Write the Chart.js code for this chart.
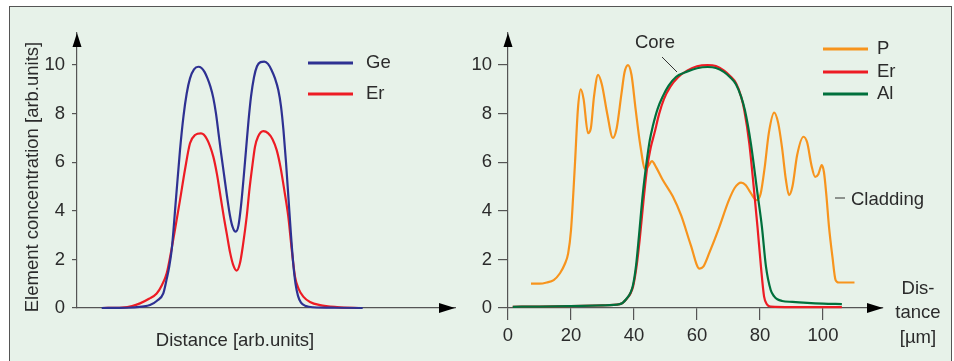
<!DOCTYPE html>
<html>
<head>
<meta charset="utf-8">
<script src="https://cdn.jsdelivr.net/npm/chart.js@4/dist/chart.umd.min.js"></script>
<style>
  body { margin: 0; background: #fff; }
  #page { position: relative; width: 954px; height: 361px; overflow: hidden; background: #fff; }
  #frame { position: absolute; left: 9px; top: 6px; width: 941px; height: 370px;
           border: 1.5px solid #555; background: #e7f2e9; }
  canvas { position: absolute; top: 0; }
  #left-chart { left: 0; }
  #right-chart { left: 430px; }
</style>
</head>
<body>
<div id="page">
  <div id="frame"></div>
  <canvas id="left-chart" width="477" height="361"></canvas>
  <canvas id="right-chart" width="524" height="361"></canvas>
</div>
<script>
// ---- left panel: arbitrary distance units ----
const geX = [24.7, 50, 65, 73, 80, 86.3, 90, 92, 94.7, 99, 103, 106.5, 109.7, 113, 117, 121.3, 124.5, 127.5, 130.5, 133.5,
             136.3, 139, 141.5, 144, 147, 150, 153, 155.5, 158.7, 161.5, 164, 166.5, 169, 171.5, 174, 177, 180, 183.5,
             187.3, 191, 194.5, 198, 201.3, 204, 206.5, 209, 211.5, 214, 216.3, 218.5, 221, 224, 229, 236, 260, 285.7];
const geY = [0, 0.01, 0.06, 0.12, 0.3, 0.6, 1.25, 1.65, 2.4, 4.5, 6.5, 7.9, 8.83, 9.45, 9.82, 9.93, 9.88, 9.72, 9.45, 9.1,
             8.65, 8.0, 7.2, 6.4, 5.5, 4.6, 3.8, 3.35, 3.14, 3.4, 4.2, 5.3, 6.5, 7.7, 8.7, 9.5, 9.95, 10.12,
             10.14, 10.05, 9.8, 9.45, 8.97, 8.3, 7.3, 6.0, 4.5, 3.0, 1.8, 1.0, 0.5, 0.22, 0.08, 0.03, 0.01, 0];
const erLeftX = [25, 45, 55, 63, 72, 79.7, 85, 89.7, 94, 98.5, 103, 108, 113, 118, 124, 130, 136.3, 140, 143.5, 147, 150,
                 153, 156, 159.7, 163, 166, 169.7, 172.5, 175.5, 178, 181, 186.3, 191, 195.5, 199.7, 203.5, 207.5, 211.3,
                 214.5, 218, 221.5, 226.3, 233, 243, 260, 285];
const erLeftY = [0, 0.02, 0.08, 0.19, 0.38, 0.6, 0.95, 1.43, 2.3, 3.35, 4.44, 5.7, 6.78, 7.12, 7.19, 6.95, 6.23, 5.5, 4.6, 3.7, 3.0,
                 2.3, 1.8, 1.54, 1.85, 2.6, 3.76, 4.9, 5.9, 6.64, 7.05, 7.28, 7.2, 6.95, 6.5, 5.8, 4.8, 3.76,
                 2.5, 1.29, 0.8, 0.47, 0.25, 0.12, 0.04, 0];

// ---- right panel: distance in µm ----
const pX = [7.3, 10, 12.3, 14.5, 16.5, 18, 19.1, 20, 21.2, 22.2, 23.1, 24, 25.4, 26.3, 27.3, 28.6, 29.8, 31.5, 33.3,
            34.5, 36, 37, 38.1, 39.2, 40.5, 42, 43.6, 44.6, 45.7, 47, 49, 52.3, 55, 58, 60.8, 62, 64, 67, 70, 72, 74,
            75.5, 77, 78.9, 80.2, 81.5, 82.8, 84.5, 85.8, 87, 88.2, 89.2, 90.3, 91.8, 93.8, 95, 96.3, 97.5, 98.5, 99.6,
            100.3, 101.1, 101.9, 103, 104, 105, 110];
const pY = [1.0, 1.0, 1.05, 1.15, 1.43, 1.8, 2.25, 3.2, 5.8, 8.2, 9.0, 8.6, 7.2, 7.4, 8.7, 9.6, 9.2, 8.0, 7.0,
            7.4, 8.8, 9.7, 10.0, 9.6, 8.2, 6.7, 5.7, 5.85, 6.05, 5.8, 5.3, 4.6, 3.8, 2.6, 1.62, 1.7, 2.3, 3.3, 4.4, 4.95, 5.16,
            5.05, 4.75, 4.44, 4.7, 5.8, 7.2, 8.04, 7.6, 6.6, 5.3, 4.65, 5.0, 6.3, 7.05, 6.8, 5.9, 5.4, 5.5, 5.88,
            5.6, 4.6, 3.35, 2.1, 1.15, 1.05, 1.05];
const erRightX = [1.5, 10, 20, 30, 35.5, 37.5, 39.7, 40.8, 41.8, 43, 44.2, 45.3, 46.5, 48, 49.5, 51.5, 54, 57, 60, 63.4,
                  66, 68.5, 70.5, 72.4, 74, 75, 76.6, 78.2, 79.2, 80.3, 81.3, 82.2, 83.5, 90, 106];
const erRightY = [0.05, 0.06, 0.08, 0.11, 0.16, 0.35, 0.88, 1.7, 2.8, 4.4, 5.8, 6.6, 7.2, 8.0, 8.6, 9.1, 9.5, 9.78, 9.95, 10.0,
                  9.96, 9.78, 9.55, 9.25, 8.7, 8.15, 6.78, 4.72, 3.35, 1.7, 0.47, 0.15, 0.06, 0.04, 0.04];
const alX = [1.5, 10, 20, 30, 35.5, 37.5, 39.6, 40.7, 41.6, 42.8, 44, 45, 46, 47.5, 49.1, 51, 53.4, 57, 60, 63.4,
             66, 68.5, 70.5, 72.4, 74, 75.2, 77.1, 79.2, 80.6, 81.9, 83.4, 84.5, 85.5, 87, 90.3, 95, 100, 106];
const alY = [0.05, 0.06, 0.08, 0.11, 0.16, 0.36, 0.9, 1.8, 3.0, 4.7, 6.0, 6.9, 7.5, 8.2, 8.7, 9.15, 9.52, 9.74, 9.87, 9.92,
             9.88, 9.72, 9.5, 9.2, 8.7, 8.15, 6.78, 4.72, 3.35, 1.7, 0.74, 0.48, 0.36, 0.29, 0.25, 0.21, 0.18, 0.16];

const yTicks = [0, 2, 4, 6, 8, 10];
const xTicksRight = [0, 20, 40, 60, 80, 100];

const FONT = { family: 'Arial, "Liberation Sans", sans-serif', size: 18.5 };
const INK = '#2b2b2b';
const AXIS = '#555';

const toPoints = (xs, ys) => xs.map((x, i) => ({ x: x, y: ys[i] }));

// arrows, legend and free text drawn on top of each panel
const panelDecor = {
  id: 'panelDecor',
  afterDraw(chart, args, opts) {
    const { ctx, chartArea: a } = chart;
    ctx.save();
    ctx.fillStyle = '#000';
    ctx.beginPath();
    ctx.moveTo(a.left, a.top);
    ctx.lineTo(a.left - 4.5, a.top + 14);
    ctx.lineTo(a.left + 4.5, a.top + 14);
    ctx.closePath();
    ctx.fill();
    ctx.beginPath();
    ctx.moveTo(a.right, a.bottom);
    ctx.lineTo(a.right - 16, a.bottom - 5);
    ctx.lineTo(a.right - 16, a.bottom + 5);
    ctx.closePath();
    ctx.fill();

    ctx.font = FONT.size + 'px ' + FONT.family;
    ctx.fillStyle = INK;
    ctx.textBaseline = 'middle';

    const lg = opts.legend;
    chart.data.datasets.forEach((ds, i) => {
      const y = lg.rows[i];
      ctx.strokeStyle = ds.borderColor;
      ctx.lineWidth = 3;
      ctx.beginPath();
      ctx.moveTo(lg.x0, y);
      ctx.lineTo(lg.x1, y);
      ctx.stroke();
      ctx.textAlign = 'left';
      ctx.fillText(ds.label, lg.tx, y);
    });

    (opts.texts || []).forEach(t => {
      ctx.save();
      ctx.translate(t.x, t.y);
      if (t.rot) ctx.rotate(t.rot);
      ctx.textAlign = t.align || 'center';
      ctx.fillText(t.text, 0, 0);
      ctx.restore();
    });

    ctx.strokeStyle = '#333';
    ctx.lineWidth = 1;
    (opts.lines || []).forEach(l => {
      ctx.beginPath();
      ctx.moveTo(l[0], l[1]);
      ctx.lineTo(l[2], l[3]);
      ctx.stroke();
    });
    ctx.restore();
  }
};

function yScale(width, tickLen, pad) {
  return {
    type: 'linear', min: 0, max: 11.32,
    afterBuildTicks: s => { s.ticks = yTicks.map(v => ({ value: v })); },
    afterFit: s => { s.width = width; },
    ticks: { font: FONT, color: INK, padding: pad },
    grid: { drawOnChartArea: false, drawTicks: true, tickLength: tickLen, color: AXIS, lineWidth: 1.2 },
    border: { color: AXIS, width: 1.2 }
  };
}

function lineSet(label, pts, color, order) {
  return {
    label: label, data: pts, borderColor: color, backgroundColor: color,
    borderWidth: 2.2, pointRadius: 0, cubicInterpolationMode: 'monotone',
    clip: false, order: order
  };
}

new Chart(document.getElementById('left-chart'), {
  type: 'line',
  data: {
    datasets: [
      lineSet('Ge', toPoints(geX, geY), '#2e3192', 1),
      lineSet('Er', toPoints(erLeftX, erLeftY), '#ed1c24', 2)
    ]
  },
  options: {
    responsive: false, animation: false,
    layout: { padding: { top: 33, right: 22, left: 0, bottom: 0 } },
    plugins: {
      legend: { display: false }, tooltip: { enabled: false },
      panelDecor: {
        legend: { x0: 308, x1: 353, tx: 366, rows: [63, 94] },
        texts: [
          { text: 'Element concentration [arb.units]', x: 33, y: 177, rot: -Math.PI / 2 },
          { text: 'Distance [arb.units]', x: 235, y: 341 }
        ]
      }
    },
    scales: {
      x: {
        type: 'linear', min: 0, max: 378,
        afterFit: s => { s.height = 53; },
        ticks: { display: false },
        grid: { display: false },
        border: { color: AXIS, width: 1.2 }
      },
      y: yScale(77, 5, 7)
    }
  },
  plugins: [panelDecor]
});

new Chart(document.getElementById('right-chart'), {
  type: 'line',
  data: {
    datasets: [
      lineSet('P', toPoints(pX, pY), '#f7941d', 3),
      lineSet('Er', toPoints(erRightX, erRightY), '#ed1c24', 2),
      lineSet('Al', toPoints(alX, alY), '#00703c', 1)
    ]
  },
  options: {
    responsive: false, animation: false,
    layout: { padding: { top: 33, right: 71, left: 0, bottom: 0 } },
    plugins: {
      legend: { display: false }, tooltip: { enabled: false },
      panelDecor: {
        legend: { x0: 393, x1: 438, tx: 447, rows: [49, 72, 94] },
        texts: [
          { text: 'Core', x: 225, y: 43 },
          { text: 'Cladding', x: 421, y: 200, align: 'left' },
          { text: 'Dis-', x: 488, y: 289 },
          { text: 'tance', x: 488, y: 313 },
          { text: '[\u00b5m]', x: 488, y: 338 }
        ],
        lines: [[232, 57, 247, 72], [405, 198, 415, 198]]
      }
    },
    scales: {
      x: {
        type: 'linear', min: 0, max: 119.05,
        afterBuildTicks: s => { s.ticks = xTicksRight.map(v => ({ value: v })); },
        afterFit: s => { s.height = 53; },
        ticks: { font: FONT, color: INK, padding: 5, maxRotation: 0 },
        grid: { drawOnChartArea: false, drawTicks: true, tickLength: 12, color: AXIS, lineWidth: 1.2 },
        border: { color: AXIS, width: 1.2 }
      },
      y: yScale(78, 10, 6)
    }
  },
  plugins: [panelDecor]
});
</script>
</body>
</html>
